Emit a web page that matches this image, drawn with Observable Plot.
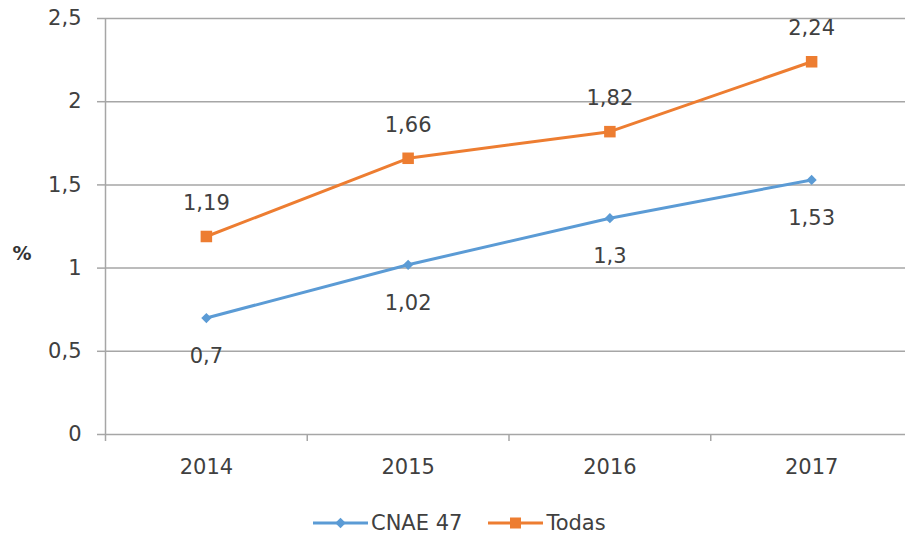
<!DOCTYPE html>
<html>
<head>
<meta charset="utf-8">
<script src="https://cdn.jsdelivr.net/npm/d3@7"></script>
<script src="https://cdn.jsdelivr.net/npm/@observablehq/plot@0.6"></script>
<style>
  html, body { margin: 0; padding: 0; background: #fff; }
  #wrap { position: relative; width: 905px; height: 541px; overflow: hidden; font-family: "DejaVu Sans", sans-serif; color: #404040; }
  #legend { position: absolute; left: 313px; top: 511px; display: flex; align-items: center; font-size: 21px; color: #404040; }
  #legend .item { display: flex; align-items: center; margin-right: 26px; }
  #legend svg { margin-right: 3px; }
</style>
</head>
<body>
<div id="wrap">
  <div id="chart"></div>
  <div id="legend"></div>
</div>
<script>
const years = [2014, 2015, 2016, 2017];
const cnae47 = [0.7, 1.02, 1.3, 1.53];
const todas = [1.19, 1.66, 1.82, 2.24];
const yTicks = [0, 0.5, 1, 1.5, 2, 2.5];
const yearBounds = [2013.5, 2014.5, 2015.5, 2016.5, 2017.5];
const seriesNames = ["CNAE 47", "Todas"];
const seriesColors = ["#5B9BD5", "#ED7D31"];
const axisLabel = "%";

const fmt = d => String(d).replace(".", ",");
const grid = "#a6a6a6";

const cnaeData = years.map((y, i) => ({year: y, value: cnae47[i], series: seriesNames[0]}));
const todasData = years.map((y, i) => ({year: y, value: todas[i], series: seriesNames[1]}));

const chart = Plot.plot({
  width: 905,
  height: 490,
  marginLeft: 105,
  marginRight: 0,
  marginTop: 18,
  marginBottom: 56,
  x: {type: "linear", domain: [yearBounds[0], yearBounds[yearBounds.length - 1]], range: [105, 912]},
  y: {domain: [0, 2.5], range: [434, 18]},
  color: {domain: seriesNames, range: seriesColors},
  style: {fontFamily: "DejaVu Sans, sans-serif", fontSize: "21px", color: "#404040", background: "#fff"},
  marks: [
    Plot.ruleY(yTicks, {x1: yearBounds[0], x2: yearBounds[yearBounds.length - 1], stroke: grid, strokeWidth: 1.5}),
    Plot.ruleX([yearBounds[0]], {y1: 0, y2: 2.5, stroke: grid, strokeWidth: 1.5}),
    Plot.axisY({ticks: yTicks, tickSize: 8, tickPadding: 16, tickFormat: fmt, label: null, stroke: grid, strokeWidth: 1.5, fill: "#404040"}),
    Plot.axisX({ticks: yearBounds, tickSize: 7, tickFormat: () => "", label: null, stroke: grid, strokeWidth: 1.5}),
    Plot.axisX({ticks: years, tickSize: 0, tickPadding: 25, tickFormat: d => String(d), label: null, fill: "#404040"}),
    Plot.text([axisLabel], {frameAnchor: "left", dx: -93, dy: 27, fill: "#333", fontWeight: "bold", fontSize: 19}),
    Plot.line(cnaeData, {x: "year", y: "value", stroke: "series", strokeWidth: 3}),
    Plot.line(todasData, {x: "year", y: "value", stroke: "series", strokeWidth: 3}),
    Plot.dot(cnaeData, {x: "year", y: "value", symbol: "diamond2", r: 4.6, fill: "series", stroke: null}),
    Plot.dot(todasData, {x: "year", y: "value", symbol: "square", r: 6.5, fill: "series", stroke: null}),
    Plot.text(cnaeData, {x: "year", y: "value", text: d => fmt(d.value), dy: 38, fill: "#404040"}),
    Plot.text(todasData, {x: "year", y: "value", text: d => fmt(d.value), dy: -33, fill: "#404040"})
  ]
});
document.getElementById("chart").appendChild(chart);

// Legend
const legend = d3.select("#legend");
seriesNames.forEach((name, i) => {
  const item = legend.append("div").attr("class", "item");
  const s = item.append("svg").attr("width", 55).attr("height", 14);
  s.append("line").attr("x1", 0).attr("x2", 55).attr("y1", 7).attr("y2", 7)
    .attr("stroke", seriesColors[i]).attr("stroke-width", 3);
  if (i === 0) {
    s.append("path").attr("d", d3.symbol(d3.symbolDiamond2, 70)()).attr("transform", "translate(27.5,7)").attr("fill", seriesColors[i]);
  } else {
    s.append("rect").attr("x", 22).attr("y", 1.5).attr("width", 11).attr("height", 11).attr("fill", seriesColors[i]);
  }
  item.append("span").text(name);
});
</script>
</body>
</html>
